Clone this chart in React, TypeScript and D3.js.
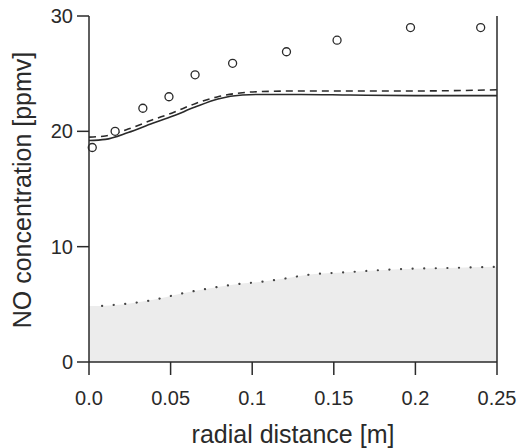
import React from "react";
import * as d3 from "d3";

const xTicks = [0, 0.05, 0.1, 0.15, 0.2, 0.25];
const xTickLabels = ["0.0", "0.05", "0.1", "0.15", "0.2", "0.25"];
const yTicks = [0, 10, 20, 30];
const yTickLabels = ["0", "10", "20", "30"];

const measX = [0.002, 0.016, 0.033, 0.049, 0.065, 0.088, 0.121, 0.152, 0.197, 0.24];
const measY = [18.6, 20.0, 22.0, 23.0, 24.9, 25.9, 26.9, 27.9, 29.0, 29.0];

const solidX = [0, 0.01, 0.024, 0.039, 0.051, 0.065, 0.079, 0.094, 0.106, 0.13, 0.16, 0.2, 0.25];
const solidY = [19.2, 19.3, 19.9, 20.7, 21.3, 22.1, 22.8, 23.15, 23.2, 23.2, 23.15, 23.1, 23.1];
const dashedY = [19.5, 19.6, 20.2, 21.0, 21.6, 22.4, 23.0, 23.35, 23.45, 23.5, 23.5, 23.5, 23.6];

const dottedX = [0.0, 0.008, 0.036, 0.059, 0.088, 0.108, 0.123, 0.131, 0.16, 0.19, 0.22, 0.25];
const dottedY = [4.85, 4.86, 5.3, 6.0, 6.7, 7.0, 7.3, 7.5, 7.8, 8.05, 8.15, 8.25];

const W = 517;
const H = 448;
const ink = "#2a2a2a";
const font = "'Liberation Sans', Arial, Helvetica, sans-serif";

export default function App() {
  const x = d3.scaleLinear().domain([0, 0.25]).range([89, 497]);
  const y = d3.scaleLinear().domain([0, 30]).range([362, 16]);

  const solid = solidX.map((v, i) => [v, solidY[i]] as [number, number]);
  const dashed = solidX.map((v, i) => [v, dashedY[i]] as [number, number]);
  const dotted = dottedX.map((v, i) => [v, dottedY[i]] as [number, number]);

  const line = d3
    .line<[number, number]>()
    .x((d) => x(d[0]))
    .y((d) => y(d[1]))
    .curve(d3.curveMonotoneX);
  const area = d3
    .area<[number, number]>()
    .x((d) => x(d[0]))
    .y0(y(0))
    .y1((d) => y(d[1]))
    .curve(d3.curveMonotoneX);

  const [x0, x1] = x.range();
  const [y0, y1] = y.range();

  return (
    <svg
      width={W}
      height={H}
      style={{ position: "absolute", left: 0, top: 0, background: "#fff" }}
      fontFamily={font}
    >
      <path d={area(dotted) || ""} fill="#ececec" stroke="none" />
      <path
        d={line(dotted.filter((d) => d[0] >= 0.006)) || ""}
        fill="none"
        stroke="#444"
        strokeWidth={2.2}
        strokeLinecap="round"
        strokeDasharray="0.1 11.5"
      />
      <path d={line(solid) || ""} fill="none" stroke={ink} strokeWidth={1.6} />
      <path
        d={line(dashed) || ""}
        fill="none"
        stroke={ink}
        strokeWidth={1.6}
        strokeDasharray="7 5"
      />
      {measX.map((v, i) => (
        <circle
          key={i}
          cx={x(v)}
          cy={y(measY[i])}
          r={4}
          fill="#fff"
          stroke={ink}
          strokeWidth={1.3}
        />
      ))}

      {/* axes */}
      <line x1={x0} x2={x0} y1={y1} y2={y0} stroke={ink} strokeWidth={1.5} />
      <line x1={x1} x2={x1} y1={y1} y2={y0} stroke={ink} strokeWidth={1.5} />
      <line x1={x0} x2={x1} y1={y0} y2={y0} stroke={ink} strokeWidth={1.5} />
      {xTicks.map((t, i) => (
        <g key={"xt" + i}>
          <line x1={x(t)} x2={x(t)} y1={y0} y2={y0 + 13} stroke={ink} strokeWidth={1.5} />
          <text
            x={x(t)}
            y={405}
            textAnchor="middle"
            fontSize={20}
            fill={ink}
          >
            {xTickLabels[i]}
          </text>
        </g>
      ))}
      {yTicks.map((t, i) => (
        <g key={"yt" + i}>
          <line x1={x0 - 12} x2={x0} y1={y(t)} y2={y(t)} stroke={ink} strokeWidth={1.5} />
          <text
            x={73}
            y={y(t) + 7}
            textAnchor="end"
            fontSize={20}
            fill={ink}
          >
            {yTickLabels[i]}
          </text>
        </g>
      ))}
      <text x={293} y={443} textAnchor="middle" fontSize={25} fill={ink}>
        radial distance [m]
      </text>
      <text
        transform={`translate(31,190) rotate(-90)`}
        textAnchor="middle"
        fontSize={25}
        fill={ink}
      >
        NO concentration [ppmv]
      </text>
    </svg>
  );
}
